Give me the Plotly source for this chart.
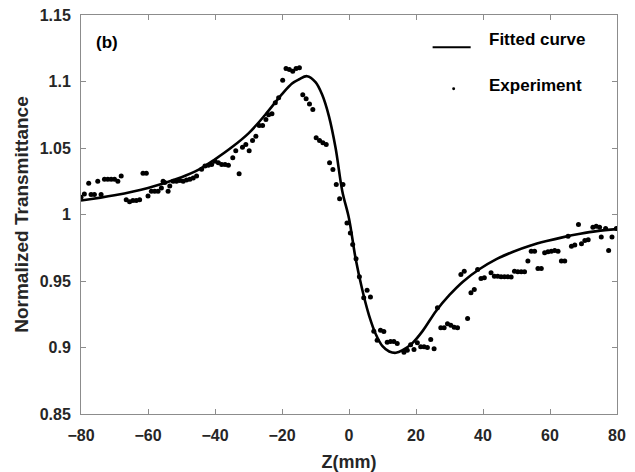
import plotly.graph_objects as go

# Measured transmittance versus sample position
z_exp = [
    -80.0, -79.0, -77.7, -77.0, -76.0, -75.0, -74.0, -73.0, -72.0, -71.0,
    -70.0, -69.0, -68.0, -66.5, -65.5, -64.5, -63.5, -62.5, -61.5, -60.5,
    -60.0, -59.0, -58.0, -57.0, -56.0, -55.5, -55.0, -54.0, -53.5, -52.5,
    -51.5, -50.5, -49.5, -48.5, -47.5, -46.5, -45.5, -44.0, -43.0, -42.0,
    -41.0, -40.0, -39.0, -38.0, -37.0, -36.0, -34.7, -33.8, -32.8, -31.8,
    -30.8, -29.8, -28.8, -27.8, -26.8, -25.8, -24.8, -24.0, -23.0, -22.0,
    -21.0, -19.8, -18.8, -17.8, -16.8, -15.8, -14.8, -13.8, -12.8, -11.8,
    -10.8, -9.8, -8.8, -7.8, -6.8, -5.8, -4.8, -3.8, -2.8, -1.8,
    -0.6, 0.4, 1.1, 2.1, 3.1, 4.4, 5.4, 6.4, 7.4, 8.4,
    9.4, 10.4, 11.4, 12.4, 13.4, 14.4, 16.4, 17.4, 18.4, 19.4,
    20.4, 21.4, 22.4, 23.4, 24.4, 25.4, 26.4, 27.4, 28.4, 29.4,
    30.4, 31.4, 32.4, 33.4, 34.4, 35.4, 36.4, 37.4, 38.4, 39.4,
    40.4, 42.4, 43.4, 44.4, 45.4, 46.4, 47.4, 48.4, 49.4, 50.4,
    51.4, 52.4, 53.4, 54.4, 55.4, 56.4, 57.4, 58.4, 59.4, 60.4,
    61.4, 62.4, 63.4, 64.4, 65.4, 66.4, 67.4, 68.5, 69.4, 70.4,
    71.4, 72.8, 73.8, 74.8, 75.3, 76.6, 77.5, 78.5, 79.8,
]
t_exp = [
    1.013, 1.0155, 1.0235, 1.015, 1.015, 1.025, 1.015, 1.0265, 1.0265, 1.0265,
    1.0265, 1.025, 1.029, 1.011, 1.0095, 1.0105, 1.0105, 1.011, 1.031, 1.031,
    1.014, 1.0175, 1.0175, 1.0175, 1.020, 1.025, 1.024, 1.0175, 1.0215, 1.025,
    1.025, 1.0255, 1.025, 1.026, 1.0265, 1.0275, 1.029, 1.034, 1.0365, 1.037,
    1.0375, 1.040, 1.039, 1.0375, 1.0375, 1.037, 1.0426, 1.048, 1.0306, 1.0506,
    1.0526, 1.048, 1.0556, 1.0589, 1.0669, 1.0669, 1.0714, 1.075, 1.0757, 1.084,
    1.0877, 1.101, 1.1098, 1.109, 1.1077, 1.1098, 1.1103, 1.090, 1.087, 1.083,
    1.079, 1.0577, 1.0556, 1.0539, 1.0526, 1.0389, 1.0338, 1.0226, 1.0118, 1.0226,
    0.9937, 0.986, 0.9774, 0.9667, 0.9532, 0.9374, 0.943, 0.938, 0.9123, 0.9055,
    0.913, 0.912, 0.904, 0.9045, 0.9045, 0.903, 0.8965, 0.898, 0.902, 0.8985,
    0.9035, 0.9005, 0.9005, 0.900, 0.906, 0.899, 0.9298, 0.9148, 0.9148, 0.9178,
    0.9168, 0.9153, 0.9148, 0.9549, 0.9574, 0.9218, 0.9411, 0.9436, 0.9586, 0.9519,
    0.9524, 0.9562, 0.9536, 0.9536, 0.9532, 0.9532, 0.9532, 0.953, 0.9574, 0.957,
    0.957, 0.957, 0.965, 0.9724, 0.9724, 0.9594, 0.9594, 0.9712, 0.972, 0.9724,
    0.973, 0.9724, 0.965, 0.965, 0.9837, 0.9762, 0.977, 0.9925, 0.978, 0.9805,
    0.981, 0.9905, 0.9912, 0.9905, 0.983, 0.9895, 0.973, 0.983, 0.9895,
]

# Fitted closed-aperture curve
z_fit = [-80, -70, -60, -50, -45, -40, -35, -30, -25, -20, -17, -15, -12.5, -10,
         -8, -6, -4, -2, 0, 2, 4, 6, 8, 10, 12, 14, 16, 19, 22, 26, 30, 34, 39,
         44, 49, 54, 59, 64, 69, 74, 80]
t_fit = [1.0105, 1.0145, 1.020, 1.028, 1.0335, 1.0415, 1.0505, 1.061, 1.075,
         1.0905, 1.0985, 1.1015, 1.104, 1.0995, 1.090, 1.074, 1.050, 1.0175,
         0.997, 0.9665, 0.943, 0.924, 0.910, 0.901, 0.897, 0.896, 0.898,
         0.9035, 0.9125, 0.9275, 0.9395, 0.9495, 0.959, 0.9665, 0.972, 0.9765,
         0.980, 0.983, 0.9855, 0.9875, 0.989]

x_ticks = [-80, -60, -40, -20, 0, 20, 40, 60, 80]
y_ticks = [0.85, 0.9, 0.95, 1.0, 1.05, 1.1, 1.15]
y_tick_text = ["0.85", "0.9", "0.95", "1", "1.05", "1.1", "1.15"]

FONT = "Liberation Sans, Arial, sans-serif"
TXT = "#262626"
AXC = "#8c8c8c"

fig = go.Figure()
fig.add_trace(go.Scatter(
    x=z_fit, y=t_fit, mode="lines", name="Fitted curve",
    line=dict(color="black", width=2.6, shape="spline", smoothing=1.0),
))
fig.add_trace(go.Scatter(
    x=z_exp, y=t_exp, mode="markers", name="Experiment",
    marker=dict(color="black", size=5),
))

axis_common = dict(
    showline=True, linecolor=AXC, linewidth=1, mirror="ticks",
    ticks="inside", ticklen=5, tickcolor=AXC, tickwidth=1,
    showgrid=False, zeroline=False, automargin=False,
    tickfont=dict(family=FONT, size=16, color=TXT, weight="bold"),
)

fig.update_layout(
    width=635, height=472,
    margin=dict(l=81, r=18, t=15, b=58),
    paper_bgcolor="white", plot_bgcolor="white",
    showlegend=False,
    xaxis=dict(
        range=[-80, 80], tickvals=x_ticks, ticklabelstandoff=7,
        title=dict(text="Z(mm)", standoff=13,
                   font=dict(family=FONT, size=18, color=TXT, weight="bold")),
        **axis_common,
    ),
    yaxis=dict(
        range=[0.85, 1.15], tickvals=y_ticks, ticktext=y_tick_text,
        ticklabelstandoff=6,
        title=dict(text="Normalized Transmittance", standoff=6,
                   font=dict(family=FONT, size=19, color=TXT, weight="bold")),
        **axis_common,
    ),
)

# Panel tag and in-plot key
fig.add_annotation(x=0.025, y=0.93, xref="paper", yref="paper", xanchor="left",
                   yanchor="middle", showarrow=False, text="(b)",
                   font=dict(family=FONT, size=17, color="black", weight="bold"))
fig.add_shape(type="line", xref="paper", yref="paper", x0=0.656, x1=0.727,
              y0=0.919, y1=0.919, line=dict(color="black", width=2))
fig.add_annotation(x=0.757, y=0.938, xref="paper", yref="paper", xanchor="left",
                   yanchor="middle", showarrow=False, text="Fitted curve",
                   font=dict(family=FONT, size=17, color="black", weight="bold"))
fig.add_shape(type="circle", xref="paper", yref="paper", x0=0.6925, x1=0.698,
              y0=0.8115, y1=0.819, fillcolor="black", line=dict(width=0))
fig.add_annotation(x=0.757, y=0.823, xref="paper", yref="paper", xanchor="left",
                   yanchor="middle", showarrow=False, text="Experiment",
                   font=dict(family=FONT, size=17, color="black", weight="bold"))

fig.write_html("out.html")
